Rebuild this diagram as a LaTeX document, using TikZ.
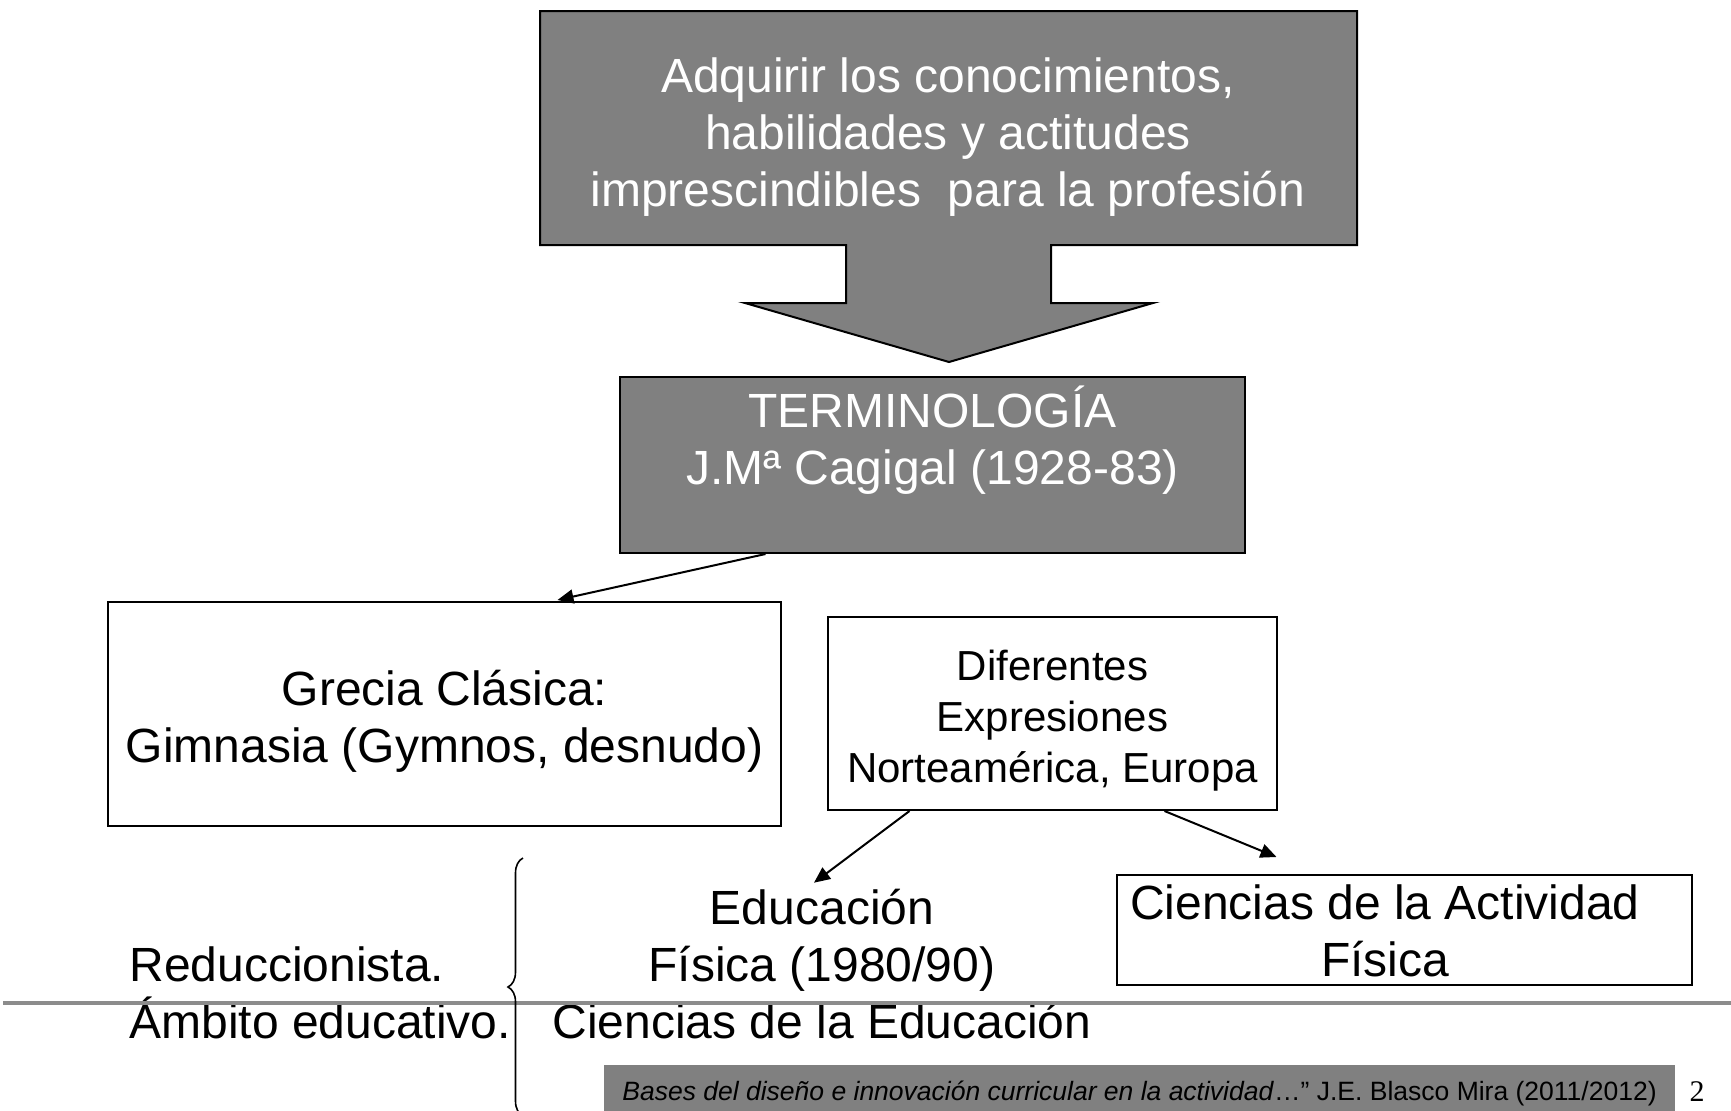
\documentclass[tikz,border=0pt]{standalone}
\usepackage{fontspec}
\setmainfont{Liberation Sans}
\newfontfamily\pagefont{Liberation Serif}
\usetikzlibrary{arrows.meta,calc,decorations.pathreplacing}
\definecolor{boxgray}{RGB}{128,128,128}
\definecolor{rulegray}{RGB}{140,140,140}
\tikzstyle{darkbox} = [draw=black, line width=1pt, fill=boxgray]
\tikzstyle{whitebox} = [draw=black, line width=1pt, fill=white, inner sep=0pt]
\tikzstyle{bigtxt} = [align=center, inner sep=0pt, font=\fontsize{24}{28.5}\selectfont]
\tikzstyle{smalltxt} = [align=center, inner sep=0pt, font=\fontsize{21}{25.5}\selectfont]
\tikzstyle{link} = [line width=1pt, -{Triangle[length=8pt,width=7pt]}]
\newcommand{\cagigal}{J.M\textordfeminine{} Cagigal (1928-83)}

\begin{document}
\begin{tikzpicture}[x=0.5pt, y=-0.5pt]%
	\path[use as bounding box, fill=white] (0,0) rectangle (1731,1110);%
	% box with arrow
	\draw[darkbox] (540,11) -- (1357,11) -- (1357,245) -- (1051,245) -- (1051,303) -- (1153,303) -- (949,362)%
		-- (745,303) -- (846,303) -- (846,245) -- (540,245) -- cycle;%
	\node[bigtxt, text=white] (goal) at (948,137) {Adquirir los conocimientos,\\habilidades y actitudes\\imprescindibles\ \ para la profesi\'on};%
	\node[darkbox, minimum width=312.5pt, minimum height=88pt] (term) at (932.5,465) {};%
	\node[bigtxt, text=white] (termtxt) at (932.5,440) {TERMINOLOG\'IA\\\cagigal};%
	% second row
	\node[whitebox, minimum width=336.5pt, minimum height=112pt] (grec) at (444.5,714) {};%
	\node[bigtxt] (grectxt) at (444.5,721) {Grecia Cl\'asica:\\Gimnasia (Gymnos, desnudo)};%
	\node[whitebox, minimum width=224.5pt, minimum height=96.5pt] (dif) at (1052.5,713.5) {};%
	\node[smalltxt] (diftxt) at (1052.5,720.5) {Diferentes\\Expresiones\\Norteam\'erica, Europa};%
	% third row
	\node[bigtxt] (edu) at (822,964) {Educaci\'on\\F\'isica (1980/90)\\Ciencias de la Educaci\'on};%
	\node[whitebox, minimum width=287.5pt, minimum height=55pt] (cafbox) at (1404.5,930) {};%
	\node[bigtxt] (caf) at (1385,931) {Ciencias de la Actividad\\F\'isica};%
	\node[bigtxt, align=left, anchor=west] (red) at (129,992.5) {Reduccionista.\\\'Ambito educativo.};%
	% arrows
	\draw[link] ($(term.south)+(-167,0)$) -- ($(grec.north)+(113,-1)$);%
	\draw[link] ($(dif.south)+(-143,0)$) -- ($(edu.north)+(-8,-6)$);%
	\draw[link] ($(dif.south)+(112,0)$) -- ($(cafbox.north)+(-128,-17)$);%
	% rule and brace
	\draw[rulegray, line width=2pt] (3,1003) -- (1731,1003);%
	\coordinate (bracetop) at (523,858);%
	\coordinate (bracebot) at (523,1116);%
	\draw[line width=0.8pt, decorate, decoration={brace, amplitude=7.5pt}] (bracebot) -- (bracetop);%
	% footer
	\node[fill=boxgray, minimum width=535.5pt, minimum height=28pt, inner sep=0pt, font=\fontsize{13.25}{15}\selectfont] (foot) at (1139.5,1093)%
		{\textit{Bases del dise\~no e innovaci\'on curricular en la actividad}\dots{}\textquotedblright{} J.E. Blasco Mira (2011/2012)};%
	\node[font=\pagefont\fontsize{15}{18}\selectfont, inner sep=0pt] (pnum) at (1697,1092) {2};%
\end{tikzpicture}
\end{document}
